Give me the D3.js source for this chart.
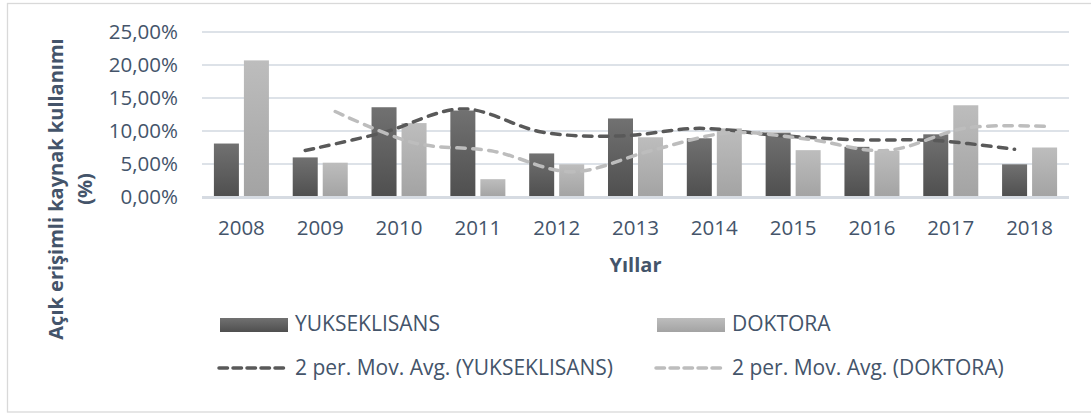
<!DOCTYPE html>
<html><head><meta charset="utf-8">
<script src="https://cdn.jsdelivr.net/npm/d3@7"></script>
<style>
body{margin:0;background:#fff}
svg{display:block}
text{font-family:'Open Sans',sans-serif;fill:#44546A}
</style>
</head><body>
<svg id="c" width="1091" height="416"></svg>
<script>
const years = ["2008","2009","2010","2011","2012","2013","2014","2015","2016","2017","2018"];
const yuksekLisans = [8.1, 6.0, 13.6, 13.1, 6.6, 11.9, 8.9, 9.75, 7.6, 9.5, 4.95];
const doktora = [20.7, 5.2, 11.2, 2.7, 4.95, 9.05, 10.4, 7.1, 7.0, 13.9, 7.5];
const seriesNames = ["YUKSEKLISANS", "DOKTORA"];
const maNames = ["2 per. Mov. Avg. (YUKSEKLISANS)", "2 per. Mov. Avg. (DOKTORA)"];
const yTicks = [0, 5, 10, 15, 20, 25];
const yTitle = ["Açık erişimli kaynak kullanımı", "(%)"];
const xTitle = "Yıllar";

const svg = d3.select("#c");
const plot = {l: 202, r: 1069, t: 32, b: 197};

const locale = d3.formatLocale({decimal: ",", thousands: ".", grouping: [3], currency: ["", ""]});
const fmt = v => locale.format(".2f")(v) + "%";

// border
svg.append("rect").attr("x", 7.5).attr("y", 3.5).attr("width", 1090).attr("height", 408.5)
  .attr("fill", "#fff").attr("stroke", "#d9d9d9").attr("stroke-width", 1.3);

// gradients
const defs = svg.append("defs");
function grad(id, c1, c2) {
  const g = defs.append("linearGradient").attr("id", id).attr("x1", 0).attr("y1", 0).attr("x2", 0).attr("y2", 1);
  g.append("stop").attr("offset", "0%").attr("stop-color", c1);
  g.append("stop").attr("offset", "100%").attr("stop-color", c2);
}
grad("gDark", "#717171", "#4f4f4f");
grad("gLight", "#bdbdbd", "#a3a3a3");
const fills = ["url(#gDark)", "url(#gLight)"];
const lineColors = ["#595959", "#bdbdbd"];

const x = d3.scaleBand().domain(years).range([plot.l, plot.r]).paddingInner(0).paddingOuter(0);
const groupW = x.bandwidth() * 0.698;
const x1 = d3.scaleBand().domain(seriesNames).range([0, groupW]).paddingInner(1/6).paddingOuter(0);
const y = d3.scaleLinear().domain([0, 25]).range([plot.b, plot.t]);

// gridlines
svg.append("g").selectAll("line").data(yTicks.filter(t => t > 0)).join("line")
  .attr("x1", plot.l).attr("x2", plot.r)
  .attr("y1", d => y(d)).attr("y2", d => y(d))
  .attr("stroke", "#dde2e8").attr("stroke-width", 2);

// y tick labels
svg.append("g").selectAll("text").data(yTicks).join("text")
  .attr("x", 178).attr("y", d => y(d) + 7)
  .attr("text-anchor", "end").attr("font-size", 20.5)
  .text(d => fmt(d));

// bars
const data = [yuksekLisans, doktora];
const barX = (si, i) => x(years[i]) + (x.bandwidth() - groupW) / 2 + x1(seriesNames[si]);
data.forEach((vals, si) => {
  svg.append("g").selectAll("rect").data(vals).join("rect")
    .attr("x", (d, i) => barX(si, i))
    .attr("width", x1.bandwidth())
    .attr("y", d => y(d))
    .attr("height", d => y(0) - y(d))
    .attr("fill", fills[si]);
});

// axis line
svg.append("line").attr("x1", plot.l).attr("x2", plot.r).attr("y1", plot.b + 0.5).attr("y2", plot.b + 0.5)
  .attr("stroke", "#d6dbe2").attr("stroke-width", 3);

// x tick labels
svg.append("g").selectAll("text").data(years).join("text")
  .attr("x", d => x(d) + x.bandwidth() / 2).attr("y", 235)
  .attr("text-anchor", "middle").attr("font-size", 20.5)
  .text(d => d);

// moving averages (2-period trendlines)
data.forEach((vals, si) => {
  const pts = vals.map((v, i) => i === 0 ? null : [barX(si, i) + x1.bandwidth() / 2, (vals[i - 1] + v) / 2]).filter(p => p);
  const line = d3.line().x(p => p[0]).y(p => y(p[1])).curve(d3.curveCatmullRom.alpha(0));
  svg.append("path").attr("d", line(pts)).attr("fill", "none")
    .attr("stroke", lineColors[si]).attr("stroke-width", 3.5)
    .attr("stroke-dasharray", "8.5 7.5").attr("stroke-linecap", "round");
});

// axis titles
svg.append("text").attr("transform", "translate(63,189) rotate(-90)")
  .attr("text-anchor", "middle").attr("font-size", 20).attr("font-weight", "bold").text(yTitle[0]);
svg.append("text").attr("transform", "translate(92,189) rotate(-90)")
  .attr("text-anchor", "middle").attr("font-size", 20).attr("font-weight", "bold").text(yTitle[1]);
svg.append("text").attr("x", (plot.l + plot.r) / 2).attr("y", 272)
  .attr("text-anchor", "middle").attr("font-size", 20).attr("font-weight", "bold").text(xTitle);

// legend
const legX = [220, 657];
seriesNames.forEach((n, i) => {
  svg.append("rect").attr("x", legX[i]).attr("y", 318).attr("width", 68).attr("height", 14).attr("fill", fills[i]);
  svg.append("text").attr("x", legX[i] + 75).attr("y", 331).attr("font-size", 21).text(n);
});
maNames.forEach((n, i) => {
  svg.append("line").attr("x1", legX[i] - 1).attr("x2", legX[i] + 68).attr("y1", 368).attr("y2", 368)
    .attr("stroke", lineColors[i]).attr("stroke-width", 3.5)
    .attr("stroke-dasharray", "8.5 5.5").attr("stroke-linecap", "round");
  svg.append("text").attr("x", legX[i] + 75).attr("y", 375).attr("font-size", 21).text(n);
});
</script>
</body></html>
